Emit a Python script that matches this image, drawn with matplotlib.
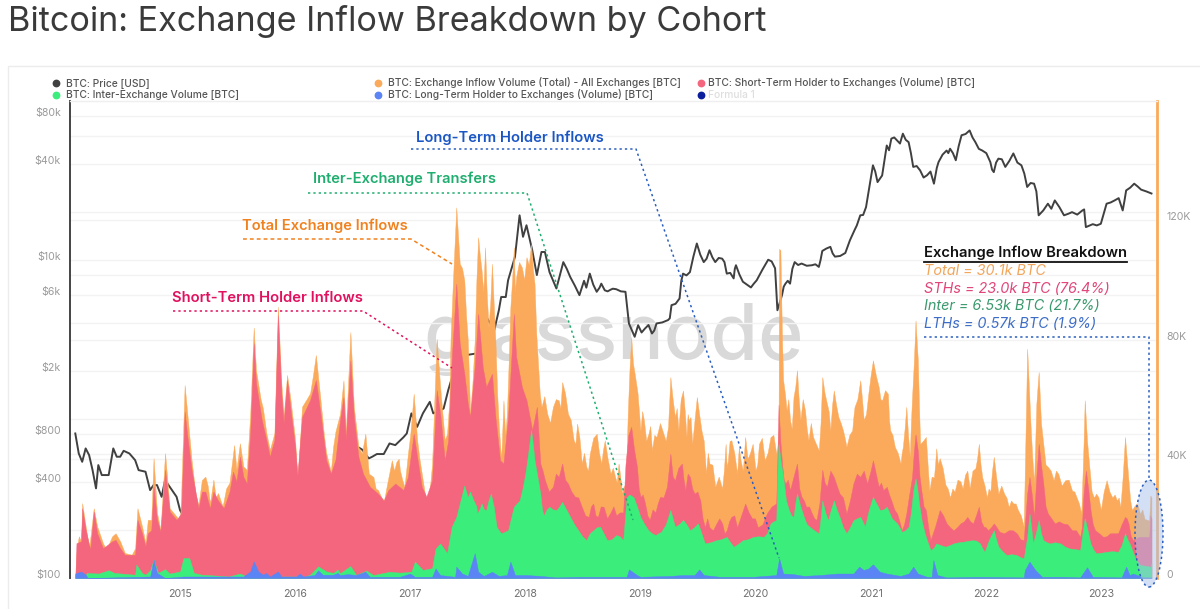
import matplotlib
matplotlib.use('Agg')
import matplotlib.pyplot as plt
from matplotlib.lines import Line2D
from matplotlib.patches import Ellipse
from matplotlib.ticker import NullLocator
from matplotlib.transforms import ScaledTranslation

plt.rcParams['font.family'] = ['Inter', 'DejaVu Sans']

# ── values ───────────────────────────────────────────────────────────────────
TOTAL_YEARS = [
    2014.09, 2014.10, 2014.12, 2014.14, 2014.15, 2014.18, 2014.21, 2014.25, 2014.28, 2014.33, 2014.36,
    2014.41, 2014.44, 2014.48, 2014.52, 2014.58, 2014.61, 2014.63, 2014.67, 2014.70, 2014.72, 2014.75,
    2014.77, 2014.80, 2014.83, 2014.87, 2014.91, 2014.97, 2015.00, 2015.01, 2015.04, 2015.06, 2015.10,
    2015.16, 2015.19, 2015.22, 2015.26, 2015.29, 2015.33, 2015.37, 2015.43, 2015.47, 2015.49, 2015.52,
    2015.55, 2015.58, 2015.61, 2015.64, 2015.66, 2015.72, 2015.75, 2015.78, 2015.82, 2015.85, 2015.88,
    2015.90, 2015.93, 2015.96, 2016.00, 2016.02, 2016.06, 2016.13, 2016.18, 2016.22, 2016.27, 2016.31,
    2016.35, 2016.39, 2016.42, 2016.44, 2016.48, 2016.51, 2016.55, 2016.58, 2016.61, 2016.64, 2016.68,
    2016.72, 2016.77, 2016.80, 2016.84, 2016.88, 2016.91, 2016.95, 2016.98, 2017.03, 2017.06, 2017.10,
    2017.14, 2017.19, 2017.23, 2017.26, 2017.30, 2017.32, 2017.35, 2017.37, 2017.40, 2017.43, 2017.47,
    2017.50, 2017.52, 2017.56, 2017.59, 2017.62, 2017.65, 2017.68, 2017.71, 2017.74, 2017.77, 2017.79,
    2017.81, 2017.84, 2017.87, 2017.90, 2017.92, 2017.97, 2018.01, 2018.05, 2018.08, 2018.11, 2018.14,
    2018.19, 2018.24, 2018.29, 2018.32, 2018.37, 2018.42, 2018.45, 2018.49, 2018.53, 2018.56, 2018.62,
    2018.66, 2018.69, 2018.74, 2018.78, 2018.81, 2018.84, 2018.87, 2018.89, 2018.92, 2018.95, 2019.00,
    2019.03, 2019.07, 2019.10, 2019.14, 2019.20, 2019.24, 2019.26, 2019.30, 2019.33, 2019.37, 2019.40,
    2019.42, 2019.45, 2019.49, 2019.53, 2019.57, 2019.60, 2019.65, 2019.71, 2019.74, 2019.76, 2019.79,
    2019.84, 2019.87, 2019.91, 2019.95, 2020.00, 2020.03, 2020.08, 2020.13, 2020.18, 2020.20, 2020.205,
    2020.216, 2020.24, 2020.27, 2020.30, 2020.33, 2020.36, 2020.39, 2020.43, 2020.46, 2020.50, 2020.55,
    2020.58, 2020.62, 2020.65, 2020.68, 2020.72, 2020.76, 2020.79, 2020.84, 2020.86, 2020.91, 2020.94,
    2020.98, 2021.02, 2021.07, 2021.10, 2021.15, 2021.17, 2021.21, 2021.26, 2021.28, 2021.31, 2021.34,
    2021.36, 2021.39, 2021.41, 2021.43, 2021.48, 2021.51, 2021.55, 2021.57, 2021.60, 2021.65, 2021.69,
    2021.73, 2021.78, 2021.82, 2021.86, 2021.91, 2021.94, 2021.97, 2022.01, 2022.04, 2022.07, 2022.11,
    2022.16, 2022.20, 2022.24, 2022.28, 2022.33, 2022.35, 2022.36, 2022.39, 2022.42, 2022.44, 2022.46,
    2022.50, 2022.54, 2022.59, 2022.63, 2022.69, 2022.75, 2022.79, 2022.83, 2022.86, 2022.90, 2022.94,
    2022.96, 2023.00, 2023.05, 2023.10, 2023.14, 2023.17, 2023.21, 2023.24, 2023.27, 2023.31, 2023.34,
    2023.38, 2023.42, 2023.43, 2023.44,
]
TOTAL_K = [
    0, 8.4, 14, 12.3, 25.1, 17.3, 10, 23.4, 17.3, 11.7, 9.5,
    14, 15, 12.3, 8.4, 7.8, 10, 23.4, 17.3, 11.7, 19.5, 19.5,
    40.2, 21.8, 16.2, 41.9, 23.4, 20.6, 19, 28.5, 64.7, 56.4, 39.6,
    24.6, 32.9, 34, 25.1, 33, 28.5, 24, 32, 44.6, 36.3, 45.2,
    37.4, 36.3, 55.2, 84, 69.7, 56.9, 48.6, 43, 48.6, 91, 65.3,
    54.2, 68.1, 59.7, 46.3, 32.4, 57.5, 62, 74.8, 59.7, 41.9, 35.7,
    49.1, 55.1, 66.3, 48.4, 82.5, 57.4, 44, 41.7, 48.4, 35, 33.9,
    29.5, 25.6, 31.7, 39.5, 39, 36.2, 30.6, 41.7, 61.8, 46.2, 35,
    25, 38.4, 80.2, 64.1, 46.2, 48.4, 79.7, 98.7, 124.3, 105.4, 99.8,
    79.7, 55.1, 79.7, 114.3, 103.1, 110.9, 84.2, 105.4, 79.7, 50.7, 39.5,
    59.6, 55.1, 90.8, 110.9, 100.9, 104.2, 107.6, 112, 98.7, 71.9, 57.4,
    55.1, 57.4, 59.6, 65.7, 55.1, 46.2, 51.8, 38.4, 37.3, 41.7, 48.4,
    38.4, 46.2, 35, 33.9, 38.4, 28.3, 28.3, 55.1, 80.8, 68.5, 49.4,
    53, 48.4, 42.8, 47.3, 48.4, 50.7, 67.4, 54, 49.5, 62.9, 47.3,
    52.9, 45, 60.7, 49.5, 35, 38.4, 30.6, 30, 45, 39.5, 46.2,
    35, 39.5, 47.3, 41.7, 36.2, 45, 39.5, 47.3, 41.7, 50, 110.4,
    110, 66.3, 56.2, 52.9, 60.7, 69.7, 53, 56.2, 46.2, 47.3, 42.8,
    67.4, 58.5, 49.5, 62.9, 54, 49.5, 44, 49.5, 57.4, 66.3, 53,
    61.8, 73, 64.1, 59.6, 61.8, 49.5, 44, 38.4, 44, 57.4, 40.6,
    60.7, 86.4, 73, 45, 47.3, 29.3, 33.7, 43.5, 40.2, 31.3, 27,
    29, 32.4, 34.6, 30.1, 36.8, 45, 33.7, 27, 29, 40.6, 28.3,
    28.3, 23.8, 25, 22.8, 17.3, 56.2, 76.9, 50.7, 31.7, 58.5, 69.1,
    45, 37.3, 32.8, 35, 32.8, 29.3, 27, 21.5, 59.6, 37.3, 27,
    28.3, 22.8, 32.8, 27, 26, 23.8, 47.3, 32.8, 22.8, 25, 21.5,
    19.8, 19.3, 27.7, 27,
]
# 촘촘한 톱니 부분 (전체 유입량)
TOTAL_DETAIL_YEARS = [
    2015.135, 2015.24, 2015.31, 2015.40, 2015.70, 2016.10, 2016.155, 2016.25, 2016.33, 2016.70, 2016.75,
    2016.86, 2016.90, 2016.93, 2017.00, 2017.08, 2017.12, 2017.17, 2017.21, 2017.28, 2017.34, 2017.45,
    2017.485, 2017.54, 2017.575, 2017.605, 2017.635, 2017.665, 2017.695, 2017.725, 2017.755, 2017.825, 2017.855,
    2017.885, 2017.91, 2017.945, 2017.99, 2018.03, 2018.065, 2018.095, 2018.125, 2018.165, 2018.215, 2018.265,
    2018.305, 2018.345, 2018.395, 2018.435, 2018.47, 2018.51, 2018.545, 2018.59, 2018.64, 2018.675, 2018.715,
    2018.76, 2018.795, 2018.825, 2018.855, 2018.905, 2018.935, 2018.975, 2019.015, 2019.05, 2019.085, 2019.12,
    2019.17, 2019.22, 2019.28, 2019.315, 2019.35, 2019.385, 2019.41, 2019.435, 2019.47, 2019.51, 2019.55,
    2019.585, 2019.625, 2019.68, 2019.725, 2019.75, 2019.775, 2019.815, 2019.855, 2019.89, 2019.93, 2019.975,
    2020.015, 2020.055, 2020.105, 2020.155, 2020.19, 2020.23, 2020.255, 2020.285, 2020.315, 2020.345, 2020.375,
    2020.41, 2020.445, 2020.48, 2020.525, 2020.565, 2020.60, 2020.635, 2020.665, 2020.70, 2020.74, 2020.775,
    2020.815, 2020.85, 2020.885, 2020.925, 2020.96, 2021.00, 2021.045, 2021.085, 2021.125, 2021.16, 2021.19,
    2021.235, 2021.27, 2021.295, 2021.325, 2021.35, 2021.375, 2021.42, 2021.455, 2021.495, 2021.53, 2021.56,
    2021.585, 2021.625, 2021.67, 2021.71, 2021.755, 2021.80, 2021.84, 2021.885, 2021.925, 2021.955, 2021.99,
    2022.025, 2022.055, 2022.09, 2022.135, 2022.18, 2022.22, 2022.26, 2022.305, 2022.375, 2022.405, 2022.45,
    2022.48, 2022.52, 2022.565, 2022.61, 2022.66, 2022.72, 2022.77, 2022.81, 2022.85, 2022.88, 2022.92,
    2022.98, 2023.025, 2023.075, 2023.12, 2023.155, 2023.19, 2023.225, 2023.255, 2023.29, 2023.325, 2023.36,
]
TOTAL_DETAIL_K = [
    28, 31, 27, 30, 60, 60, 68, 48, 44, 30, 27,
    36, 40, 33, 48, 40, 30, 30, 60, 55, 60, 104,
    88, 65, 100, 108, 96, 95, 92, 92, 62, 48, 72,
    100, 96, 106, 100, 105, 104, 82, 62, 61, 52, 60,
    57, 62, 53, 45, 47, 42, 36, 47, 42, 43, 40,
    37, 32, 34, 31, 70, 72, 62, 56, 46, 51, 48,
    52, 46, 60, 57, 60, 56, 55, 54, 53, 55, 46,
    42, 38, 34, 36, 37, 46, 42, 44, 36, 40, 45,
    38, 47, 42, 48, 44, 80, 62, 60, 50, 64, 60,
    60, 50, 52, 45, 52, 62, 56, 58, 58, 52, 47,
    48, 54, 60, 60, 55, 68, 68, 60, 63, 53, 48,
    42, 42, 50, 48, 52, 72, 58, 46, 38, 34, 38,
    38, 37, 30, 30, 33, 30, 36, 36, 40, 38, 31,
    30, 36, 34, 31, 27, 26, 25, 21, 64, 40, 64,
    52, 38, 36, 36, 31, 33, 29, 25, 45, 46, 29,
    27, 29, 29, 28, 27, 34, 40, 26, 24, 24, 23,
]

STH_YEARS = [
    2014.09, 2014.10, 2014.14, 2014.15, 2014.18, 2014.22, 2014.25, 2014.28, 2014.33, 2014.41, 2014.44,
    2014.48, 2014.52, 2014.61, 2014.63, 2014.67, 2014.70, 2014.72, 2014.75, 2014.77, 2014.80, 2014.83,
    2014.87, 2014.91, 2014.97, 2015.01, 2015.04, 2015.06, 2015.10, 2015.16, 2015.19, 2015.22, 2015.26,
    2015.29, 2015.33, 2015.38, 2015.43, 2015.46, 2015.49, 2015.52, 2015.55, 2015.58, 2015.61, 2015.64,
    2015.66, 2015.71, 2015.75, 2015.78, 2015.82, 2015.85, 2015.88, 2015.90, 2015.93, 2015.96, 2016.00,
    2016.02, 2016.06, 2016.13, 2016.18, 2016.22, 2016.27, 2016.31, 2016.35, 2016.39, 2016.42, 2016.44,
    2016.48, 2016.51, 2016.55, 2016.59, 2016.65, 2016.72, 2016.77, 2016.81, 2016.87, 2016.94, 2016.98,
    2017.03, 2017.06, 2017.10, 2017.14, 2017.19, 2017.23, 2017.26, 2017.30, 2017.33, 2017.36, 2017.40,
    2017.43, 2017.47, 2017.50, 2017.52, 2017.56, 2017.59, 2017.63, 2017.66, 2017.71, 2017.74, 2017.78,
    2017.81, 2017.85, 2017.90, 2017.92, 2017.97, 2018.01, 2018.06, 2018.10, 2018.13, 2018.17, 2018.24,
    2018.29, 2018.32, 2018.37, 2018.43, 2018.49, 2018.55, 2018.59, 2018.63, 2018.68, 2018.74, 2018.79,
    2018.85, 2018.87, 2018.92, 2018.97, 2019.00, 2019.04, 2019.08, 2019.13, 2019.17, 2019.23, 2019.26,
    2019.30, 2019.36, 2019.39, 2019.43, 2019.47, 2019.52, 2019.56, 2019.60, 2019.66, 2019.71, 2019.75,
    2019.79, 2019.84, 2019.91, 2019.97, 2020.02, 2020.10, 2020.18, 2020.19, 2020.20, 2020.23, 2020.26,
    2020.30, 2020.36, 2020.40, 2020.44, 2020.49, 2020.53, 2020.58, 2020.62, 2020.68, 2020.73, 2020.79,
    2020.85, 2020.91, 2020.97, 2021.02, 2021.07, 2021.11, 2021.14, 2021.18, 2021.23, 2021.27, 2021.31,
    2021.36, 2021.39, 2021.41, 2021.44, 2021.48, 2021.52, 2021.56, 2021.60, 2021.66, 2021.72, 2021.78,
    2021.84, 2021.89, 2021.94, 2021.98, 2022.02, 2022.07, 2022.12, 2022.20, 2022.27, 2022.33, 2022.36,
    2022.38, 2022.42, 2022.46, 2022.50, 2022.54, 2022.60, 2022.67, 2022.75, 2022.82, 2022.85, 2022.87,
    2022.91, 2022.95, 2023.02, 2023.08, 2023.15, 2023.21, 2023.24, 2023.28, 2023.33, 2023.38, 2023.42,
    2023.43, 2023.44,
]
STH_K = [
    0, 11.7, 12.3, 23.4, 16.2, 9.5, 22.3, 15, 10, 12.3, 12.8,
    10, 7.8, 7.8, 19.5, 15, 10.6, 15, 16, 30.7, 19.5, 15.6,
    36.3, 22.3, 19.5, 21.8, 55.8, 48.6, 36.3, 23.4, 29, 29, 23.4,
    29, 26, 23.4, 29, 35.7, 32.4, 40.7, 34, 31.7, 48.6, 78.7,
    65.3, 53, 46.3, 40.7, 46.3, 88.2, 62, 52, 66.4, 56.4, 44,
    34.5, 54, 59.7, 66.4, 55.2, 39.6, 35, 39.6, 53, 60.7, 46.2,
    73, 54, 40.6, 35, 30.6, 28.3, 26, 29.5, 31.7, 29.5, 33.9,
    48.4, 40.6, 30.6, 27.3, 32.8, 63, 55.1, 39.5, 46.2, 73, 98.7,
    78.6, 68.5, 58.5, 54, 70.7, 88.6, 70.7, 64.1, 68.5, 54, 39.5,
    38.4, 54, 88.6, 74.2, 64.1, 59.6, 49.6, 57.4, 38.4, 32.8, 30.6,
    33.9, 38.4, 31.7, 27.3, 23.9, 20.5, 25, 20.5, 23.9, 22, 21,
    22, 38, 50.7, 37.3, 27.2, 25, 19.5, 22, 27.2, 30.6, 41.7,
    32.8, 38.4, 29.5, 33.9, 28.3, 26, 17, 17, 18.3, 18.3, 16,
    20.5, 17, 25, 20, 17, 21.8, 25, 40, 58.1, 38.4, 31.7,
    29.5, 38.4, 27.2, 23.9, 21.6, 19.5, 36.3, 30.6, 33.9, 28.3, 21.6,
    31.7, 33.9, 31.7, 39.5, 30.6, 29.5, 30.6, 26, 21.6, 16, 21.6,
    33.9, 48.2, 42.6, 29.5, 22.8, 12.7, 17.3, 22.8, 18.3, 16, 18.3,
    20.5, 18.3, 23.9, 17.3, 16, 18.3, 15.5, 16, 15, 12.7, 28.3,
    33.9, 20.5, 45, 31.7, 21.6, 18.3, 18.3, 16, 13.8, 28.3, 36,
    22.8, 16, 13.8, 15, 15, 20.5, 18.3, 12.7, 13.8, 13.8, 13.8,
    21, 20,
]
STH_DETAIL_YEARS = [
    2018.15, 2018.205, 2018.265, 2018.345, 2018.40, 2018.46, 2018.52, 2018.57, 2018.61, 2018.655, 2018.71,
    2018.765, 2018.82, 2018.895, 2018.945, 2018.985, 2019.02, 2019.06, 2019.105, 2019.15, 2019.20, 2019.245,
    2019.28, 2019.33, 2019.375, 2019.41, 2019.45, 2019.495, 2019.54, 2019.58, 2019.63, 2019.685, 2019.73,
    2019.77, 2019.815, 2019.875, 2019.94, 2019.995, 2020.06, 2020.14, 2020.215, 2020.245, 2020.28, 2020.33,
    2020.38, 2020.42, 2020.465, 2020.51, 2020.555, 2020.60, 2020.65, 2020.705, 2020.76, 2020.82, 2020.88,
    2020.94, 2021.00, 2021.045, 2021.09, 2021.16, 2021.205, 2021.25, 2021.29, 2021.335, 2021.375, 2021.425,
    2021.46, 2021.50, 2021.54, 2021.58, 2021.63, 2021.69, 2021.75, 2021.81, 2021.865, 2021.915, 2021.96,
    2022.00, 2022.045, 2022.095, 2022.16, 2022.235, 2022.30, 2022.40, 2022.44, 2022.48, 2022.52, 2022.57,
    2022.635, 2022.71, 2022.785, 2022.835, 2022.89, 2022.93, 2022.985, 2023.05, 2023.115, 2023.18, 2023.225,
    2023.26,
]
STH_DETAIL_K = [
    36, 29, 35, 33, 29, 27, 21, 24, 21, 24, 20,
    24, 22, 48, 43, 30, 28, 21, 23, 25, 27, 36,
    34, 37, 33, 35, 30, 29, 20, 20, 16, 20, 15,
    19, 21, 21, 22, 20, 18, 24, 46, 33, 33, 34,
    30, 26, 24, 20, 25, 32, 36, 31, 27, 26, 35,
    36, 36, 35, 32, 28, 23, 19, 18, 28, 42, 34,
    24, 17, 15, 20, 21, 17, 17, 19, 19, 21, 19,
    17, 17, 17, 15, 16, 13, 28, 34, 38, 24, 20,
    19, 18, 16, 17, 30, 18, 15, 14, 15, 18, 20,
    14,
]

INTER_YEARS = [
    2014.09, 2014.17, 2014.19, 2014.29, 2014.38, 2014.43, 2014.61, 2014.62, 2014.67, 2014.70, 2014.74,
    2014.77, 2014.81, 2014.87, 2014.91, 2015.00, 2015.03, 2015.08, 2015.12, 2015.19, 2015.32, 2015.42,
    2015.52, 2015.58, 2015.67, 2015.75, 2015.90, 2016.01, 2016.07, 2016.13, 2016.20, 2016.27, 2016.33,
    2016.37, 2016.39, 2016.48, 2016.53, 2016.62, 2016.68, 2016.82, 2016.91, 2017.01, 2017.04, 2017.11,
    2017.19, 2017.22, 2017.26, 2017.32, 2017.36, 2017.40, 2017.47, 2017.50, 2017.55, 2017.58, 2017.62,
    2017.66, 2017.70, 2017.75, 2017.79, 2017.85, 2017.90, 2017.95, 2018.00, 2018.05, 2018.08, 2018.13,
    2018.16, 2018.21, 2018.27, 2018.32, 2018.39, 2018.46, 2018.53, 2018.59, 2018.65, 2018.71, 2018.79,
    2018.85, 2018.88, 2018.94, 2019.00, 2019.07, 2019.13, 2019.18, 2019.26, 2019.30, 2019.37, 2019.43,
    2019.50, 2019.56, 2019.66, 2019.75, 2019.81, 2019.89, 2019.98, 2020.07, 2020.13, 2020.18, 2020.19,
    2020.20, 2020.24, 2020.29, 2020.33, 2020.36, 2020.42, 2020.47, 2020.55, 2020.58, 2020.63, 2020.68,
    2020.73, 2020.79, 2020.85, 2020.91, 2020.95, 2021.02, 2021.08, 2021.14, 2021.23, 2021.27, 2021.33,
    2021.37, 2021.39, 2021.42, 2021.47, 2021.52, 2021.57, 2021.65, 2021.72, 2021.81, 2021.89, 2021.95,
    2021.99, 2022.07, 2022.11, 2022.18, 2022.27, 2022.33, 2022.36, 2022.38, 2022.41, 2022.46, 2022.50,
    2022.56, 2022.65, 2022.73, 2022.82, 2022.86, 2022.91, 2022.96, 2023.05, 2023.15, 2023.21, 2023.25,
    2023.30, 2023.34, 2023.40, 2023.43, 2023.44,
]
INTER_K = [
    0, 0.3, 1.7, 1.5, 2.6, 1.7, 1.1, 4.5, 1.7, 1.1, 2.6,
    6.1, 1.7, 3, 1.5, 2.2, 6.7, 6.7, 1.7, 1.1, 0.8, 0.5,
    1.5, 0.5, 0.3, 0.3, 0.5, 0.5, 0.3, 1.1, 3.9, 2.2, 1.7,
    2.8, 1.6, 4, 1, 2.5, 1, 2.1, 1.8, 2.1, 5.5, 2.7,
    3.3, 9.9, 11.6, 8.3, 17.2, 20.5, 31, 27.1, 26, 21.6, 25,
    22.8, 28.3, 17.2, 15, 16, 23.9, 26, 35, 49.6, 39.5, 28.3,
    21, 23.9, 22.8, 25.5, 20.5, 16, 12.7, 16, 17.2, 12.7, 14.4,
    12.7, 27.1, 27.1, 20.5, 16, 14.4, 15.5, 22.8, 17.2, 19.5, 16,
    18.3, 11.6, 12.7, 13.8, 10.5, 12.7, 13.8, 13.8, 18.3, 19.4, 35,
    45, 33.9, 22.8, 20.5, 28.3, 20.5, 17.2, 15, 26, 19.4, 26,
    20.5, 15, 19.4, 20.5, 17.2, 27.2, 22.8, 23.9, 18.3, 15.5, 17.2,
    29.3, 33.4, 25, 15, 9.4, 11.6, 10.5, 11.6, 12.2, 12.7, 11.6,
    8.8, 16, 10.5, 7.7, 7.7, 6.6, 13.8, 21.6, 11.6, 19.4, 12.7,
    11.6, 11.6, 9.9, 9.4, 20, 11.6, 8.3, 8.8, 8.8, 15, 11.6,
    6.6, 4.4, 4, 3.8, 5,
]
INTER_DETAIL_YEARS = [
    2017.52, 2017.575, 2017.60, 2017.64, 2017.68, 2017.725, 2017.77, 2017.82, 2017.875, 2017.925, 2017.975,
    2018.025, 2018.065, 2018.105, 2018.145, 2018.185, 2018.24, 2018.295, 2018.355, 2018.425, 2018.495, 2018.56,
    2018.62, 2018.68, 2018.75, 2018.82, 2018.905, 2018.97, 2019.035, 2019.10, 2019.155, 2019.22, 2019.28,
    2019.335, 2019.40, 2019.465, 2019.53, 2019.61, 2019.70, 2019.78, 2019.85, 2019.935, 2020.025, 2020.10,
    2020.155, 2020.215, 2020.265, 2020.31, 2020.345, 2020.39, 2020.445, 2020.51, 2020.565, 2020.605, 2020.655,
    2020.705, 2020.76, 2020.82, 2020.88, 2020.93, 2020.985, 2021.05, 2021.11, 2021.185, 2021.25, 2021.30,
    2021.35, 2021.405, 2021.445, 2021.495, 2021.545, 2021.61, 2021.685, 2021.765, 2021.85, 2021.92, 2021.97,
    2022.03, 2022.09, 2022.145, 2022.225, 2022.30, 2022.395, 2022.435, 2022.48, 2022.53, 2022.60, 2022.69,
    2022.775, 2022.84, 2022.885, 2022.935, 2023.005, 2023.10, 2023.18, 2023.23,
]
INTER_DETAIL_K = [
    29, 24, 23, 23, 26, 24, 16, 15.5, 20, 25, 30,
    42, 45, 34, 23, 23, 23, 24, 23, 18, 14, 15,
    17, 15, 13, 14, 28, 24, 18, 15, 15, 18, 20,
    18, 18, 17, 15, 12, 13, 12, 11.5, 13, 14, 15,
    19, 40, 26, 21, 25, 24, 18, 16, 20, 22, 23,
    23, 17, 17, 20, 19, 23, 25, 23, 20, 17, 16,
    22, 30, 19, 12, 10, 11, 11, 12, 12.5, 12.5, 10,
    13, 13, 9, 8, 7, 17, 15, 15, 12, 12, 10.5,
    9.7, 15, 16, 9.5, 8.5, 9, 11, 13,
]

LTH_YEARS = [
    2014.09, 2014.14, 2014.18, 2014.20, 2014.74, 2014.77, 2014.80, 2014.87, 2015.03, 2015.55, 2015.61,
    2015.64, 2015.68, 2015.72, 2015.75, 2015.78, 2015.85, 2015.88, 2016.01, 2016.04, 2016.07, 2016.17,
    2016.20, 2016.24, 2016.33, 2016.37, 2016.39, 2016.46, 2016.53, 2016.61, 2016.65, 2016.91, 2017.00,
    2017.04, 2017.19, 2017.22, 2017.26, 2017.39, 2017.40, 2017.45, 2017.50, 2017.56, 2017.59, 2017.64,
    2017.71, 2017.77, 2017.84, 2017.87, 2017.91, 2018.01, 2018.13, 2018.27, 2018.47, 2018.71, 2018.88,
    2018.90, 2018.97, 2019.00, 2019.26, 2019.37, 2019.47, 2019.51, 2019.55, 2019.69, 2019.98, 2020.18,
    2020.205, 2020.24, 2020.33, 2020.42, 2020.56, 2020.71, 2020.85, 2020.90, 2020.94, 2020.98, 2021.02,
    2021.08, 2021.14, 2021.26, 2021.33, 2021.37, 2021.41, 2021.49, 2021.53, 2021.545, 2021.58, 2021.66,
    2021.95, 2022.33, 2022.34, 2022.38, 2022.43, 2022.49, 2022.67, 2022.82, 2022.88, 2022.93, 2023.18,
    2023.22, 2023.25, 2023.28, 2023.37, 2023.44,
]
LTH_K = [
    1.5, 2.2, 1.1, 0, 0.5, 6.1, 1.7, 0, 0.5, 0.5, 2.2,
    5.6, 2.2, 1.1, 1.7, 0.5, 2.2, 0.5, 0.5, 1.5, 0.5, 1,
    2.6, 1.1, 1.1, 1.7, 1, 1.3, 1, 2.1, 0.4, 0.4, 1.5,
    0.4, 0.4, 3.2, 1, 0.4, 3.8, 1.5, 0.7, 8.3, 2.1, 0.7,
    2.1, 0.7, 1, 5.5, 1, 1, 0.7, 0.2, 0.4, 0.4, 0.4,
    2.9, 1, 0.4, 0.7, 1, 1, 2.9, 1, 0.4, 0.4, 1,
    6.6, 1.5, 1.3, 0.7, 1, 1.5, 1.5, 3.8, 2.7, 3.2, 4.6,
    2.1, 1.5, 0.7, 1.5, 3.8, 1.5, 0.4, 0.4, 6, 1, 0.2,
    0.4, 0.2, 2.7, 5.5, 2.7, 0.4, 0.4, 0.2, 3.6, 0.4, 0.2,
    3.8, 1, 1.5, 0.2, 0.2,
]

PRICE_YEARS = [
    2014.09, 2014.12, 2014.15, 2014.18, 2014.21, 2014.24, 2014.27, 2014.29, 2014.32, 2014.38, 2014.42,
    2014.45, 2014.48, 2014.51, 2014.56, 2014.61, 2014.64, 2014.70, 2014.74, 2014.77, 2014.80, 2014.84,
    2014.87, 2014.91, 2014.97, 2015.00, 2015.05, 2015.30, 2015.60, 2015.85, 2016.00, 2016.30, 2016.50,
    2016.55, 2016.58, 2016.64, 2016.67, 2016.71, 2016.77, 2016.82, 2016.87, 2016.94, 2016.97, 2017.01,
    2017.06, 2017.11, 2017.17, 2017.20, 2017.29, 2017.33, 2017.37, 2017.45, 2017.60, 2017.66, 2017.73, 2017.77,
    2017.79, 2017.83, 2017.85, 2017.91, 2017.95, 2017.98, 2018.01, 2018.06, 2018.10, 2018.14, 2018.17,
    2018.21, 2018.27, 2018.33, 2018.39, 2018.47, 2018.56, 2018.62, 2018.66, 2018.69, 2018.74, 2018.79,
    2018.87, 2018.90, 2018.95, 2018.98, 2019.04, 2019.10, 2019.14, 2019.24, 2019.27, 2019.34, 2019.37,
    2019.43, 2019.49, 2019.55, 2019.60, 2019.65, 2019.71, 2019.75, 2019.81, 2019.83, 2019.89, 2019.96,
    2020.01, 2020.11, 2020.17, 2020.19, 2020.23, 2020.26, 2020.30, 2020.34, 2020.40, 2020.49, 2020.55,
    2020.58, 2020.65, 2020.69, 2020.78, 2020.82, 2020.86, 2020.91, 2020.96, 2021.02, 2021.06, 2021.14,
    2021.18, 2021.23, 2021.28, 2021.33, 2021.37, 2021.43, 2021.49, 2021.55, 2021.59, 2021.66, 2021.69,
    2021.74, 2021.79, 2021.86, 2021.91, 2021.97, 2022.04, 2022.07, 2022.11, 2022.17, 2022.24, 2022.31,
    2022.36, 2022.42, 2022.46, 2022.54, 2022.60, 2022.68, 2022.75, 2022.84, 2022.87, 2023.00, 2023.05,
    2023.12, 2023.19, 2023.22, 2023.29, 2023.35, 2023.44,
]
PRICE_USD = [
    811, 607, 538, 653, 593, 477, 366, 513, 444, 444, 653,
    579, 579, 631, 607, 551, 477, 466, 357, 384, 384, 324,
    413, 375, 324, 267, 230, 240, 280, 370, 430, 430, 650,
    663, 644, 565, 579, 602, 602, 702, 685, 766, 811, 1085,
    892, 1085, 1282, 1085, 1163, 1517, 1900, 2500, 2600, 4400, 3620, 4830,
    5850, 5850, 7450, 10470, 19100, 13990, 16540, 11520, 8040, 11230, 11230,
    8390, 6620, 9700, 7820, 6010, 8210, 6310, 7100, 6450, 6500, 6550,
    6310, 3990, 3290, 3890, 3710, 3450, 3990, 4190, 5200, 5730, 8210,
    8390, 12700, 9700, 11520, 9700, 10200, 8210, 7660, 9270, 7300, 6720,
    7450, 10040, 8860, 4830, 6010, 7100, 7100, 9700, 9500, 9270, 9050,
    11400, 12100, 10500, 11070, 13300, 15400, 19100, 21500, 39400, 30900, 52500,
    58000, 56500, 62300, 55100, 38500, 36600, 34100, 30200, 41300, 48800, 50100,
    42400, 60900, 65300, 55100, 48800, 41300, 35700, 43400, 38500, 46800, 39400,
    28800, 30200, 19100, 22600, 23700, 19100, 20000, 20500, 16100, 16900, 22600,
    23700, 20500, 27400, 30200, 27700, 26200,
]
PRICE_DETAIL_YEARS = [
    2018.36, 2018.43, 2018.51, 2018.53, 2018.59, 2018.645, 2018.715, 2018.76, 2018.83, 2019.01, 2019.07,
    2019.12, 2019.19, 2019.255, 2019.305, 2019.355, 2019.40, 2019.46, 2019.52, 2019.575, 2019.625, 2019.68,
    2019.73, 2019.78, 2019.82, 2019.86, 2019.925, 2019.985, 2020.06, 2020.14, 2020.245, 2020.28, 2020.32,
    2020.37, 2020.445, 2020.52, 2020.565, 2020.615, 2020.67, 2020.735, 2020.88, 2020.935, 2020.99, 2021.04,
    2021.10, 2021.16, 2021.205, 2021.255, 2021.305, 2021.35, 2021.40, 2021.46, 2021.52, 2021.575, 2021.625,
    2021.675, 2021.715, 2021.765, 2021.825, 2021.885, 2021.94, 2022.005, 2022.055, 2022.09, 2022.14, 2022.205,
    2022.275, 2022.335, 2022.39, 2022.44, 2022.50, 2022.57, 2022.64, 2022.715, 2022.795, 2022.855, 2022.93,
    2022.965, 2023.025, 2023.085, 2023.155, 2023.205, 2023.255, 2023.32, 2023.395,
]
PRICE_DETAIL_USD = [
    8800, 6900, 7400, 6700, 7000, 6700, 6350, 6600, 6350, 3500, 3900,
    3600, 4050, 4300, 5300, 7400, 8000, 10500, 10800, 10200, 10400, 10300,
    9700, 8300, 8800, 8100, 7000, 7100, 8700, 9800, 6800, 7400, 8800,
    9300, 9200, 9400, 10000, 11800, 11000, 10600, 16500, 19200, 29000, 36000,
    34000, 49000, 59000, 54000, 57000, 47000, 39000, 33000, 36000, 38000, 46000,
    47000, 47000, 52000, 62000, 59000, 50000, 47000, 37000, 41000, 43000, 42000,
    41000, 35000, 30500, 27000, 20500, 21000, 21500, 19500, 19300, 20800, 16800,
    16500, 19500, 23000, 24500, 23500, 28500, 29000, 27000,
]

PRICE_TICKS = [100, 200, 400, 600, 800, 1000, 2000, 4000, 6000, 8000, 10000, 20000, 40000, 60000, 80000]
PRICE_LABELS = ['$100', '', '$400', '', '$800', '', '$2k', '', '$6k', '', '$10k', '', '$40k', '', '$80k']
VOLUME_TICKS = [0, 40000, 80000, 120000]
VOLUME_LABELS = ['0', '40K', '80K', '120K']
YEAR_TICKS = [2015, 2016, 2017, 2018, 2019, 2020, 2021, 2022, 2023]

COL_TOTAL = '#fbaa5b'
COL_STH = '#f4667e'
COL_INTER = '#3bee7c'
COL_LTH = '#5b84f5'
COL_PRICE = '#404040'
W, H = 1200, 609


def fx(x):
    return x / W


def fy(y):
    return 1 - y / H


def put(x, y, s, **kw):
    kw.setdefault('va', 'center')
    fig.text(fx(x), fy(y), s, **kw)


def path(points, color, style=(0, (1.5, 2)), lw=1.1):
    fig.add_artist(Line2D([fx(p[0]) for p in points], [fy(p[1]) for p in points],
                          color=color, lw=lw, ls=style, zorder=6))


def merged(years, vals, detail_years, detail_vals):
    pairs = sorted(zip(years + detail_years, vals + detail_vals))
    return [p[0] for p in pairs], [p[1] for p in pairs]


fig = plt.figure(figsize=(W / 100, H / 100), dpi=100)
rect = [fx(70), fy(578), fx(1157) - fx(70), fy(101) - fy(578)]

# 오른쪽 축 grid는 맨 아래 축에 따로 그림 (가격선을 덮지 않도록)
bg = fig.add_axes(rect, zorder=0)
bg.set_xlim(0, 1)
bg.set_ylim(0, 160000)
bg.set_yticks(VOLUME_TICKS)
bg.set_xticks([])
bg.set_yticklabels([])
bg.tick_params(axis='y', length=0)
bg.grid(axis='y', color='#f3f3f3', lw=1)
for spine in bg.spines.values():
    spine.set_visible(False)

# 메인 축: 왼쪽 가격(log), 오른쪽 거래량
ax = fig.add_axes(rect, zorder=1)
ax.patch.set_visible(False)
ax.set_xlim(2014.044, 2023.488)
ax.set_yscale('log')
ax.set_ylim(100, 100000)
ax.set_yticks(PRICE_TICKS)
ax.set_yticklabels(PRICE_LABELS)
ax.yaxis.set_minor_locator(NullLocator())
ax.set_xticks(YEAR_TICKS)
ax.set_xticklabels([str(y) for y in YEAR_TICKS])
ax.tick_params(axis='y', length=0, pad=6.5, labelsize=7.6, labelcolor='#9a9a9a')
ax.tick_params(axis='x', length=0, pad=8, labelsize=7.6, labelcolor='#6f6f6f')
ax.grid(axis='y', color='#f3f3f3', lw=1)
ax.set_axisbelow(True)
for side in ['top', 'right', 'bottom']:
    ax.spines[side].set_visible(False)
ax.spines['left'].set_color('#444444')
ax.spines['left'].set_linewidth(1.4)

ax.text(0.5, 0.5, 'glassnode', transform=ax.transAxes, ha='center', va='center',
        fontsize=55.5, color='#d9d9d9', fontweight='medium', zorder=0.5)
ax.plot(*merged(PRICE_YEARS, PRICE_USD, PRICE_DETAIL_YEARS, PRICE_DETAIL_USD),
        color=COL_PRICE, lw=1.4, zorder=2)

ax2 = ax.twinx()
ax2.set_zorder(2)
ax2.set_ylim(0, 160000)
ax2.set_yticks(VOLUME_TICKS)
ax2.set_yticklabels(VOLUME_LABELS)
ax2.tick_params(axis='y', length=0, pad=6.5, labelsize=7.6, labelcolor='#9a9a9a')
ax2.patch.set_visible(False)
for side in ['top', 'left', 'bottom']:
    ax2.spines[side].set_visible(False)
ax2.spines['right'].set_color(COL_TOTAL)
ax2.spines['right'].set_linewidth(2)

SERIES = [
    (merged(TOTAL_YEARS, TOTAL_K, TOTAL_DETAIL_YEARS, TOTAL_DETAIL_K), COL_TOTAL),
    (merged(STH_YEARS, STH_K, STH_DETAIL_YEARS, STH_DETAIL_K), COL_STH),
    (merged(INTER_YEARS, INTER_K, INTER_DETAIL_YEARS, INTER_DETAIL_K), COL_INTER),
    ((LTH_YEARS, LTH_K), COL_LTH),
]
for (years, vals), col in SERIES:
    ax2.fill_between(years, [v * 1000 for v in vals], 0, color=col, lw=0.3, zorder=3)

# tick label은 grid 선보다 4px 위에 있음
shift = ScaledTranslation(0, 4 / 100, fig.dpi_scale_trans)
for lab in ax.get_yticklabels() + ax2.get_yticklabels():
    lab.set_transform(lab.get_transform() + shift)

# 패널 테두리
path([(8, 609), (8, 66), (1200, 66)], '#ececec', '-', 1)
path([(70, 101), (1157, 101)], '#efefef', '-', 1)

put(8, 21, 'Bitcoin: Exchange Inflow Breakdown by Cohort', fontsize=24.6, color='#3a3a3a')

# 범례
LEGEND_ROWS = [
    (56, 66, 83, COL_PRICE, 'BTC: Price [USD]', '#555555'),
    (56, 66, 95, COL_INTER, 'BTC: Inter-Exchange Volume [BTC]', '#555555'),
    (378, 388, 83, COL_TOTAL, 'BTC: Exchange Inflow Volume (Total) - All Exchanges [BTC]', '#555555'),
    (378, 388, 95, COL_LTH, 'BTC: Long-Term Holder to Exchanges (Volume) [BTC]', '#555555'),
    (701, 708, 83, COL_STH, 'BTC: Short-Term Holder to Exchanges (Volume) [BTC]', '#555555'),
    (701, 708, 95, '#0b1f9c', 'Formula 1', '#dedede'),
]
for mx, tx, y, col, label, tcol in LEGEND_ROWS:
    fig.add_artist(Line2D([fx(mx)], [fy(y)], marker='o', ms=4.6, color=col, ls='none'))
    put(tx, y, label, fontsize=7.35, color=tcol, fontweight='medium')

# 콜아웃
put(416, 138, 'Long-Term Holder Inflows', fontsize=10.65, color='#1a56c4', fontweight='semibold')
path([(411, 149), (636, 149), (779, 558)], '#2b5fbf')
put(313, 179, 'Inter-Exchange Transfers', fontsize=10.6, color='#1fae6f', fontweight='semibold')
path([(308, 193), (527, 193), (633, 520)], '#1fae6f')
put(242, 226, 'Total Exchange Inflows', fontsize=10.6, color='#f0811f', fontweight='semibold')
path([(243, 239), (411, 239), (452, 264)], '#f0811f', (0, (2.5, 2)))
put(172, 298, 'Short-Term Holder Inflows', fontsize=10.65, color='#e0115f', fontweight='semibold')
path([(173, 311), (363, 311), (452, 368)], '#e0115f')

put(924, 253, 'Exchange Inflow Breakdown', fontsize=10.65, color='#111111', fontweight='semibold')
path([(924, 262), (1127, 262)], '#111111', '-', 1.3)
put(924, 271, 'Total = 30.1k BTC', fontsize=10.4, color='#f2a65a', style='italic')
put(924, 289, 'STHs = 23.0k BTC (76.4%)', fontsize=10.4, color='#e0457b', style='italic')
put(924, 306, 'Inter = 6.53k BTC (21.7%)', fontsize=10.4, color='#3a9a6d', style='italic')
put(924, 324, 'LTHs = 0.57k BTC (1.9%)', fontsize=10.4, color='#3d6dc7', style='italic')
path([(924, 337), (1149, 337), (1149, 480)], '#2b5fbf')

fig.add_artist(Ellipse((fx(1149), fy(533.5)), 28 / W, 107 / H, transform=fig.transFigure,
                       facecolor='#a9c1ec', alpha=0.5, edgecolor='none', zorder=5))
fig.add_artist(Ellipse((fx(1149), fy(533.5)), 28 / W, 107 / H, transform=fig.transFigure,
                       facecolor='none', edgecolor='#2b5fbf', ls=(0, (1.5, 2)), lw=1.1, zorder=6))

plt.savefig('out.png', dpi=100)
